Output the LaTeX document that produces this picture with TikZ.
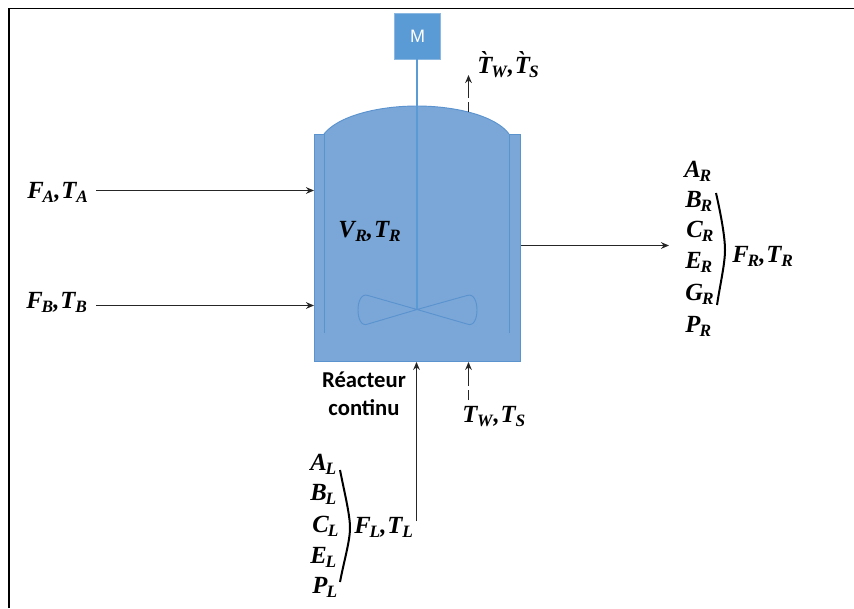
\documentclass[tikz,border=0pt]{standalone}
\usepackage{fontspec}
\setmainfont{Liberation Serif}
\newfontfamily\calfont{Carlito}
\newfontfamily\arlfont{Liberation Sans}
\usetikzlibrary{arrows.meta}
\definecolor{rfill}{HTML}{7AA7D8}
\definecolor{redge}{HTML}{5B93CE}
\definecolor{mfill}{HTML}{5B9BD5}
\newcommand{\lab}[2]{\textbf{\textit{#1}}\kern-0.04em\raisebox{-0.2em}{\fontsize{13}{13}\selectfont\textbf{\textit{#2}}}}
\newcommand{\cma}{\textbf{\textit{,}}\kern0.04em}
\tikzset{
  x=0.75pt,y=-0.75pt,
  flow/.style={draw=black!85,line width=1pt,-{Stealth[length=6pt,width=5pt]}},
  dflow/.style={flow,dash pattern=on 7.5pt off 3pt on 30pt},
  txt/.style={inner sep=0pt,anchor=base west,font=\fontsize{18.5}{18.5}\selectfont},
  tank/.style={fill=rfill,draw=redge,line width=0.7pt},
  thin line/.style={draw=redge,line width=0.7pt},
}
\begin{document}
\begin{tikzpicture}
\useasboundingbox (0,0) rectangle (854,608);
\fill[white] (0,0) rectangle (854,608);
\draw[line width=1.4pt,black] (9,608) -- (9,8.5) -- (854,8.5);
% reactor
\node[tank,minimum width=154.5pt,minimum height=170.25pt,inner sep=0pt,anchor=north west] (reactor) at (314,134) {};
\coordinate (domeL) at (324,134);
\coordinate (domeR) at (509,134);
\fill[rfill] (domeL) .. controls (338,116) and (378,106) .. (417,106) .. controls (456,106) and (496,116) .. (domeR) -- (509,150) -- (324,150) -- cycle;
\draw[thin line] (domeL) .. controls (338,116) and (378,106) .. (417,106) .. controls (456,106) and (496,116) .. (domeR);
\draw[thin line] (domeL) -- (324,333);
\draw[thin line] (domeR) -- (509,333);
% motor
\node[fill=mfill,draw=mfill!70!white,line width=0.5pt,minimum width=34.5pt,minimum height=34.5pt,inner sep=0pt,text=white,font=\arlfont\fontsize{13.5}{14}\selectfont] (motor) at (417.5,36) {M};
\coordinate (hub) at (417,309.5);
\draw[draw=mfill,line width=1.1pt] (motor.south -| hub) -- (hub);
% impeller
\draw[thin line] (hub) -- (368,295.5) .. controls (361,293) and (358,302) .. (358,310) .. controls (358,318) and (361,327) .. (368,324) -- (hub)
  -- (467,295.5) .. controls (474,293) and (477,302) .. (477,310) .. controls (477,318) and (474,327) .. (467,324) -- cycle;
% labels
\node[txt] (fa) at (27,198) {\lab{F}{A}\cma\lab{T}{A}};
\node[txt] (fb) at (26,308) {\lab{F}{B}\cma\lab{T}{B}};
\node[txt] (vr) at (338,237) {\lab{V}{R}\cma\lab{T}{R}};
\node[txt] (ts) at (477,73) {\lab{\`T}{W}\cma\lab{\`T}{S}};
\node[txt] (tw) at (462,422) {\lab{T}{W}\cma\lab{T}{S}};
\node[txt] (fl) at (354,533) {\lab{F}{L}\cma\lab{T}{L}};
\node[txt] (fr) at (732,262) {\lab{F}{R}\cma\lab{T}{R}};
\node[inner sep=0pt,align=center,font=\calfont\bfseries\fontsize{17}{21}\selectfont] (rc) at (364,394) {Réacteur\\continu};
% left column
\node[txt] (al) at (310,470) {\lab{A}{L}};
\node[txt] (bl) at (310,500) {\lab{B}{L}};
\node[txt] (cl) at (312,532) {\lab{C}{L}};
\node[txt] (el) at (310,563) {\lab{E}{L}};
\node[txt] (pl) at (312,593) {\lab{P}{L}};
% right column
\node[txt] (ar) at (684,177) {\lab{A}{R}};
\node[txt] (br) at (685,207) {\lab{B}{R}};
\node[txt] (cr) at (686,237) {\lab{C}{R}};
\node[txt] (er) at (685,268) {\lab{E}{R}};
\node[txt] (gr) at (685,300) {\lab{G}{R}};
\node[txt] (pr) at (685,332) {\lab{P}{R}};
% brackets
\coordinate (bl1) at (340,470); \coordinate (bl2) at (350,528); \coordinate (bl3) at (340,582);
\draw[line width=1.5pt] (bl1) .. controls (345,495) and (350,515) .. (bl2) .. controls (350,541) and (344,561) .. (bl3);
\coordinate (br1) at (716,193); \coordinate (br2) at (725,250); \coordinate (br3) at (717,305);
\draw[line width=1.5pt] (br1) .. controls (721,215) and (725,237) .. (br2) .. controls (725,264) and (720,285) .. (br3);
% flows
\coordinate (faS) at (96,190.5); \coordinate (fbS) at (96,305.5);
\draw[flow] (faS) -- (reactor.west |- faS);
\draw[flow] (fbS) -- (reactor.west |- fbS);
\coordinate (outE) at (669,245.5);
\draw[flow] (reactor.east |- outE) -- (outE);
\coordinate (flS) at (416.5,521);
\draw[flow] (flS) -- (flS |- reactor.south);
\coordinate (twS) at (468.5,400);
\draw[dflow] (twS) -- (twS |- reactor.south);
\coordinate (tsS) at (468.5,112); \coordinate (tsE) at (468.5,75);
\draw[dflow] (tsS) -- (tsE);
\end{tikzpicture}
\end{document}
